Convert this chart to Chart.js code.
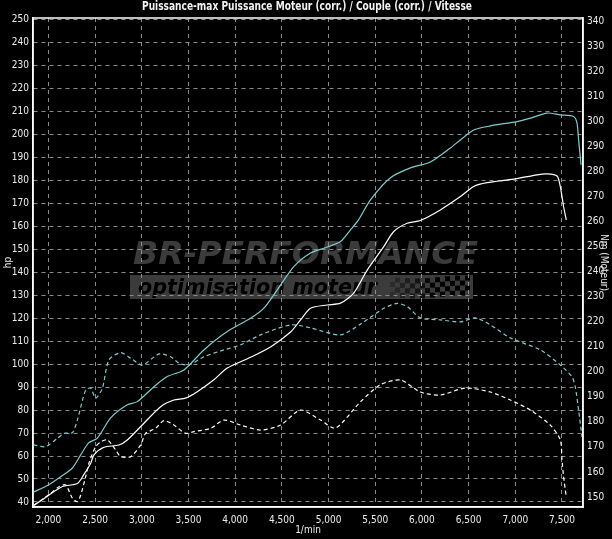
<!DOCTYPE html>
<html>
<head>
<meta charset="utf-8">
<script src="https://cdn.jsdelivr.net/npm/chart.js@4/dist/chart.umd.min.js"></script>
<style>
  html, body { margin: 0; padding: 0; background: #000; }
  #wrap { width: 612px; height: 539px; }
</style>
</head>
<body>
<div id="wrap"><canvas id="myChart" width="612" height="539"></canvas></div>
<script>
// data

const rpmMax = [1840, 2000, 2132, 2257, 2346, 2431, 2524, 2667, 2845, 2952, 3130, 3273, 3451, 3665, 3915, 4165, 4307, 4451, 4628, 4807, 4949, 5128, 5235, 5321, 5449, 5663, 5877, 6091, 6305, 6412, 6554, 6733, 7019, 7161, 7340, 7482, 7624, 7661, 7678, 7704];
const hpMax = [44.3, 47.4, 51, 54.8, 60.5, 65.7, 67.8, 76.6, 82.3, 83.7, 90.2, 94.6, 97.5, 106.2, 114.2, 120, 124.4, 132.4, 142.5, 148.4, 150.5, 153.4, 158.5, 162.9, 171.6, 181.2, 185.5, 188.1, 194.2, 197.7, 202, 203.8, 205.7, 207.2, 209.4, 208.6, 207.9, 205, 197.7, 186.8];

const rpmEngine = [1846, 1989, 2150, 2310, 2381, 2453, 2488, 2595, 2755, 2845, 3023, 3202, 3344, 3469, 3594, 3772, 3915, 4165, 4379, 4593, 4700, 4807, 4986, 5128, 5270, 5414, 5591, 5698, 5842, 5983, 6197, 6412, 6554, 6698, 6982, 7233, 7340, 7447, 7482, 7517, 7546];
const hpEngine = [38.5, 42.5, 46.7, 48, 52, 56.9, 60.5, 63.8, 64.8, 67, 74.3, 81.5, 84.4, 85.2, 88, 93.2, 98.3, 103, 107.5, 114, 119.3, 124.4, 125.8, 126.6, 131, 141, 151.2, 157.8, 161.4, 162.6, 167.2, 173, 177.4, 179.1, 180.6, 182.5, 182.9, 182, 177.4, 168.7, 162.9];

const rpmTorqueMax = [1840, 1971, 2096, 2167, 2257, 2310, 2399, 2453, 2506, 2578, 2648, 2774, 2881, 3006, 3184, 3309, 3398, 3505, 3665, 3879, 4058, 4272, 4593, 4807, 5128, 5342, 5591, 5735, 5842, 5983, 6197, 6412, 6572, 6733, 6947, 7268, 7482, 7607, 7642, 7678, 7714];
const nmMax = [170.8, 170.1, 173.4, 175.4, 175.7, 180.7, 192.7, 193.4, 189.4, 193.4, 204.7, 207.6, 205.4, 202.7, 207.1, 206, 203.4, 202.7, 206, 208.7, 210.7, 214.7, 218.7, 217.5, 214.7, 219, 225.3, 227.3, 226, 221.5, 220.7, 219.9, 221.5, 218.7, 213.5, 208.7, 202.7, 198, 194, 184.7, 174];

const rpmTorqueEngine = [1846, 1953, 2025, 2113, 2185, 2257, 2310, 2346, 2399, 2434, 2506, 2560, 2631, 2720, 2774, 2881, 2988, 3041, 3148, 3237, 3344, 3469, 3558, 3737, 3879, 4058, 4272, 4486, 4700, 4914, 5074, 5342, 5556, 5770, 5983, 6197, 6465, 6733, 6947, 7161, 7375, 7482, 7500, 7517, 7543];
const nmEngine = [146.8, 149.5, 151.5, 154.1, 154.8, 149.5, 148.1, 150.8, 158.1, 163.5, 170.1, 172, 172.8, 168.8, 166.1, 166.1, 170.8, 175.4, 177.4, 180.5, 178.7, 175.4, 176.1, 177.4, 180.7, 178.7, 176.7, 178.7, 184.7, 180.7, 177.5, 188, 194.8, 196.7, 191.9, 190.7, 193.5, 191.9, 188.7, 184.7, 178.7, 172.8, 164.8, 158.1, 150.8];

const rpmTicks = [2000, 2500, 3000, 3500, 4000, 4500, 5000, 5500, 6000, 6500, 7000, 7500];
const hpTicks = [40, 50, 60, 70, 80, 90, 100, 110, 120, 130, 140, 150, 160, 170, 180, 190, 200, 210, 220, 230, 240, 250];
const nmTicks = [150, 160, 170, 180, 190, 200, 210, 220, 230, 240, 250, 260, 270, 280, 290, 300, 310, 320, 330, 340];

const titleText = "Puissance-max Puissance Moteur (corr.) / Couple (corr.) / Vitesse";

//

const FONT = "'DejaVu Sans Condensed', 'DejaVu Sans', sans-serif";
const CYAN = "#80cccc";
const GRID = "#8c8c8c";
const LABEL = "#ececec";

const pairUp = (xs, ys) => xs.map((x, i) => ({ x: x, y: ys[i] }));

const fixTicks = (list) => (scale) => {
  scale.ticks = list.map((v) => ({ value: v }));
};

// background, title, BR-Performance watermark (under the grid)
const backdrop = {
  id: "backdrop",
  beforeDraw: (chart) => {
    const ctx = chart.ctx;
    ctx.save();
    ctx.fillStyle = "#000";
    ctx.fillRect(0, 0, chart.width, chart.height);

    // narrow bold title
    ctx.fillStyle = "#f2f2f2";
    ctx.font = "bold 12px " + FONT;
    ctx.textAlign = "center";
    ctx.textBaseline = "middle";
    let w = ctx.measureText(titleText).width;
    ctx.translate(307, 7);
    ctx.scale(330 / w, 1);
    ctx.fillText(titleText, 0, 0);
    ctx.restore();

    ctx.save();
    ctx.fillStyle = "#3b3b3b";
    ctx.font = "italic bold 32px 'DejaVu Sans', sans-serif";
    ctx.textBaseline = "alphabetic";
    w = ctx.measureText("BR-PERFORMANCE").width;
    ctx.translate(133, 264);
    ctx.scale(345 / w, 1);
    ctx.fillText("BR-PERFORMANCE", 0, 0);
    ctx.restore();

    ctx.save();
    ctx.fillStyle = "#3b3b3b";
    ctx.fillRect(130, 275, 343, 24);
    ctx.fillStyle = "#000";
    ctx.font = "italic bold 21px 'DejaVu Sans', sans-serif";
    w = ctx.measureText("optimisation moteur").width;
    ctx.translate(138, 294);
    ctx.scale(239 / w, 1);
    ctx.fillText("optimisation moteur", 0, 0);
    ctx.restore();

    // checkered flag
    ctx.save();
    const sq = 5;
    for (let c = 0; c < 16; c++) {
      for (let r = 0; r < 4; r++) {
        if ((c + r) % 2 === 0) continue;
        ctx.globalAlpha = Math.min(1, 0.25 + c * 0.08);
        ctx.fillStyle = "#000";
        const wave = Math.sin(c / 3) * 1.5;
        ctx.fillRect(390 + c * sq, 277 + r * sq + wave, sq, sq);
      }
    }
    ctx.restore();
  },
  afterDraw: (chart) => {
    const a = chart.chartArea, ctx = chart.ctx;
    ctx.save();
    ctx.strokeStyle = "#fff";
    ctx.lineWidth = 1.5;
    ctx.strokeRect(a.left, a.top, a.right - a.left, a.bottom - a.top);
    ctx.restore();
  },
};

const data = {
  datasets: [
    {
      label: "Puissance-max",
      data: pairUp(rpmMax, hpMax),
      borderColor: CYAN,
      borderWidth: 1.2,
      yAxisID: "hp",
    },
    {
      label: "Puissance Moteur (corr.)",
      data: pairUp(rpmEngine, hpEngine),
      borderColor: "#fff",
      borderWidth: 1.2,
      yAxisID: "hp",
    },
    {
      label: "Couple-max",
      data: pairUp(rpmTorqueMax, nmMax),
      borderColor: CYAN,
      borderWidth: 1.2,
      borderDash: [4, 3],
      yAxisID: "nm",
    },
    {
      label: "Couple (corr.)",
      data: pairUp(rpmTorqueEngine, nmEngine),
      borderColor: "#fff",
      borderWidth: 1.2,
      borderDash: [4, 3],
      yAxisID: "nm",
    },
  ],
};

const tickFont = { family: FONT, size: 10 };

const config = {
  type: "line",
  data: data,
  plugins: [backdrop],
  options: {
    responsive: false,
    animation: false,
    layout: { padding: { top: 18 } },
    elements: {
      point: { radius: 0 },
      line: { tension: 0.25, fill: false },
    },
    plugins: {
      legend: { display: false },
      tooltip: { enabled: false },
      title: { display: false },
    },
    scales: {
      x: {
        type: "linear",
        min: 1835,
        max: 7725,
        afterBuildTicks: fixTicks(rpmTicks),
        afterFit: (s) => { s.height = 32; },
        grid: { color: GRID, drawTicks: false, lineWidth: 1 },
        border: { color: "#fff", width: 1.5, dash: [4, 4] },
        ticks: {
          color: LABEL,
          font: tickFont,
          padding: 7,
          maxRotation: 0,
          callback: (v) => v.toLocaleString("en-US"),
        },
        title: {
          display: true,
          text: "1/min",
          color: LABEL,
          font: tickFont,
          padding: { top: 0, bottom: 3 },
        },
      },
      hp: {
        type: "linear",
        position: "left",
        min: 37.8,
        max: 250.8,
        afterBuildTicks: fixTicks(hpTicks),
        afterFit: (s) => { s.width = 33; },
        grid: { color: GRID, drawTicks: false, lineWidth: 1 },
        border: { color: "#fff", width: 1.5, dash: [4, 4] },
        ticks: { color: LABEL, font: tickFont, padding: 4 },
        title: {
          display: true,
          text: "hp",
          color: LABEL,
          font: tickFont,
          padding: { top: 2, bottom: 0 },
        },
      },
      nm: {
        type: "linear",
        position: "right",
        min: 146,
        max: 341.2,
        afterBuildTicks: fixTicks(nmTicks),
        afterFit: (s) => { s.width = 29; },
        grid: { drawOnChartArea: false, drawTicks: false },
        border: { color: "#fff", width: 1.5 },
        ticks: { color: LABEL, font: tickFont, padding: 4 },
        title: {
          display: true,
          text: "Nm (Moteur)",
          color: LABEL,
          font: tickFont,
          padding: { top: 2, bottom: 0 },
        },
      },
    },
  },
};

// dashed grid lines
Chart.defaults.scale.grid.borderDash = [4, 4];
config.options.scales.x.grid.borderDash = [4, 4];
config.options.scales.hp.grid.borderDash = [4, 4];

const myChart = new Chart(document.getElementById("myChart"), config);
</script>
</body>
</html>
